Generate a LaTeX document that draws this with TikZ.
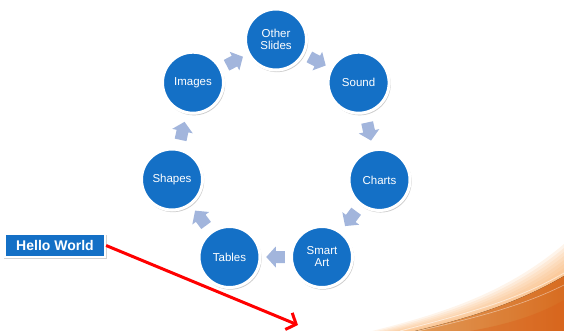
\documentclass[tikz,border=0pt]{standalone}
\usepackage{fontspec}
\setmainfont{Liberation Sans}
\usetikzlibrary{shadows,arrows.meta}
\definecolor{cblue}{RGB}{20,112,198}
\definecolor{arrowfill}{RGB}{162,181,220}
\definecolor{orA}{RGB}{248,170,95}
\definecolor{orB}{RGB}{236,118,35}
\definecolor{orC}{RGB}{218,90,22}
\tikzset{
  circ/.style={circle, fill=cblue, draw=white, line width=3pt, minimum size=61pt, inner sep=0pt,
    text=white, align=center, font=\fontsize{11.5}{12}\selectfont,
    drop shadow={shadow xshift=1pt, shadow yshift=-1.5pt, shadow scale=1.02, opacity=.4}},
  hello/.style={rectangle, fill=cblue, draw=white, line width=2.2pt, minimum width=100pt, minimum height=23pt,
    inner sep=0pt, text=white, font=\fontsize{14}{16}\selectfont\bfseries,
    drop shadow={shadow xshift=.8pt, shadow yshift=-1.2pt, shadow scale=1.03, opacity=.35}},
  blockarr/.pic={\fill[arrowfill] (-9,-6) -- (0,-6) -- (0,-10.5) -- (9.5,0) -- (0,10.5) -- (0,6) -- (-9,6) -- cycle;},
  flow/.style={draw=none},
  redarrow/.style={draw=red, line width=3pt, -{Straight Barb[length=8pt,width=18pt]}}
}
\begin{document}
\begin{tikzpicture}[x=1pt,y=-1pt]
\useasboundingbox (0,0) rectangle (564,331);
% orange swoosh background (soft edge built from translucent layers)
\foreach \k in {0,...,7}{
  \fill[orA, opacity=.13]
    ({372+5*\k},331) .. controls ({440+3*\k},{314+1*\k}) and ({505+2*\k},{294+1.5*\k}) .. (564,{244+4*\k}) -- (564,331) -- cycle;
}
\fill[left color=orA, right color=orB, opacity=.9] (415,331) .. controls (470,318) and (520,302) .. (564,276) -- (564,331) -- cycle;
\fill[orC, opacity=.35] (470,331) .. controls (510,324) and (540,314) .. (564,300) -- (564,331) -- cycle;
\draw[white, opacity=.55, line width=.8pt] (400,331) .. controls (465,314) and (518,300) .. (564,273);
\draw[white, opacity=.45, line width=.6pt] (418,331) .. controls (475,318) and (522,306) .. (564,285);
% circles
\node[circ] (other) at (276,39.5) {Other\\Slides};
\node[circ] (sound) at (358.6,82.7) {Sound};
\node[circ] (charts) at (379.5,179.9) {Charts};
\node[circ] (smart) at (322,257) {Smart\\Art};
\node[circ] (tables) at (229.5,257) {Tables};
\node[circ] (shapes) at (172,179.5) {Shapes};
\node[circ] (images) at (193,82.7) {Images};
% block arrows
\path[flow] (images) -- pic[pos=.5, sloped, allow upside down]{blockarr} (other);
\path[flow] (other) -- pic[pos=.5, sloped, allow upside down]{blockarr} (sound);
\path[flow] (sound) -- pic[pos=.5, sloped, allow upside down]{blockarr} (charts);
\path[flow] (charts) -- pic[pos=.5, sloped, allow upside down]{blockarr} (smart);
\path[flow] (smart) -- pic[pos=.5, sloped, allow upside down]{blockarr} (tables);
\path[flow] (tables) -- pic[pos=.5, sloped, allow upside down]{blockarr} (shapes);
\path[flow] (shapes) -- pic[pos=.5, sloped, allow upside down]{blockarr} (images);
% hello world
\node[hello] (hello) at (55,245.5) {Hello World};
\coordinate (target) at (298,325);
\draw[redarrow] (hello.east) -- (target);
\end{tikzpicture}
\end{document}
